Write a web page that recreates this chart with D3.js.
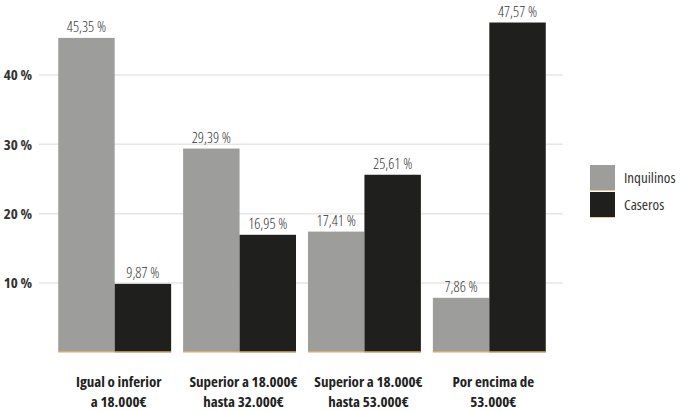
<!DOCTYPE html>
<html><head><meta charset="utf-8">
<script src="https://cdn.jsdelivr.net/npm/d3@7"></script>
<style>
body{margin:0;background:#fff;}
svg{display:block;}
svg text{font-family:"Open Sans";font-stretch:condensed;}
</style></head><body>
<svg id="c" width="681" height="411"></svg>
<script>
const categories = [["Igual o inferior","a 18.000€"],["Superior a 18.000€","hasta 32.000€"],["Superior a 18.000€","hasta 53.000€"],["Por encima de","53.000€"]];
const seriesNames = ["Inquilinos","Caseros"];
const inquilinos = [45.35, 29.39, 17.41, 7.86];
const caseros = [9.87, 16.95, 25.61, 47.57];
const yTicks = [10, 20, 30, 40];
const colors = ["#9d9d9b","#1f1f1d"];

const svg = d3.select("#c");
const x0 = d3.scaleBand().domain(d3.range(categories.length)).range([52, 552]).paddingInner(0.096).paddingOuter(0.05);
const x1 = d3.scaleBand().domain(seriesNames).range([0, x0.bandwidth()]);
const y = d3.scaleLinear().domain([0, 40]).range([352.3, 75]);
const fmt = v => v.toFixed(2).replace(".", ",") + " %";

// gridlines
svg.append("g").selectAll("line").data(yTicks).join("line")
  .attr("x1", 39).attr("x2", 563).attr("y1", d => y(d)).attr("y2", d => y(d))
  .attr("stroke", "#e6e6e6").attr("stroke-width", 1.5);

// y tick labels
svg.append("g").selectAll("text").data(yTicks).join("text")
  .attr("x", 32).attr("y", d => y(d)).attr("dy", "0.35em").attr("text-anchor", "end")
  .attr("font-size", 15).attr("font-weight", "bold").attr("fill", "#333")
  .text(d => d + " %");

const data = categories.map((c, i) => ({i, vals: [
  {s: seriesNames[0], v: inquilinos[i], c: colors[0]},
  {s: seriesNames[1], v: caseros[i], c: colors[1]}]}));

const g = svg.append("g").selectAll("g").data(data).join("g")
  .attr("transform", d => `translate(${x0(d.i)},0)`);
g.selectAll("rect").data(d => d.vals).join("rect")
  .attr("x", d => x1(d.s)).attr("width", x1.bandwidth())
  .attr("y", d => y(d.v)).attr("height", d => y(0) - y(d.v))
  .attr("fill", d => d.c);
g.selectAll("line.base").data(d => d.vals).join("line").attr("class","base")
  .attr("x1", d => x1(d.s)).attr("x2", d => x1(d.s) + x1.bandwidth())
  .attr("y1", y(0) - 0.5).attr("y2", y(0) - 0.5)
  .attr("stroke", "#f3b35a").attr("stroke-width", 1);
g.selectAll("text.val").data(d => d.vals).join("text").attr("class","val")
  .attr("x", d => x1(d.s) + x1.bandwidth()/2).attr("y", d => y(d.v) - 6)
  .attr("text-anchor", "middle").attr("font-size", 15).attr("font-weight", 300).attr("fill", "#333")
  .text(d => fmt(d.v));

// category labels
const cl = svg.append("g").selectAll("text").data(categories).join("text")
  .attr("x", (d, i) => x0(i) + x0.bandwidth()/2 + 4).attr("y", 387)
  .attr("text-anchor", "middle").attr("font-size", 15).attr("font-weight", "bold").attr("fill", "#222");
cl.selectAll("tspan").data(d => d).join("tspan")
  .attr("x", function(){ return this.parentNode.getAttribute("x"); })
  .attr("dy", (d, j) => j ? 20 : 0).text(d => d);

// legend
const lg = svg.append("g").selectAll("g").data(seriesNames).join("g")
  .attr("transform", (d, i) => `translate(590,${165 + i*27})`);
lg.append("rect").attr("width", 25).attr("height", 25).attr("fill", (d, i) => colors[i]);
lg.append("line").attr("x1", 0).attr("x2", 25).attr("y1", 25.5).attr("y2", 25.5).attr("stroke", "#f3c98a");
lg.append("text").attr("x", 34).attr("y", 13).attr("dy", "0.35em")
  .attr("font-size", 15).attr("fill", "#333").text(d => d);
</script></body></html>
